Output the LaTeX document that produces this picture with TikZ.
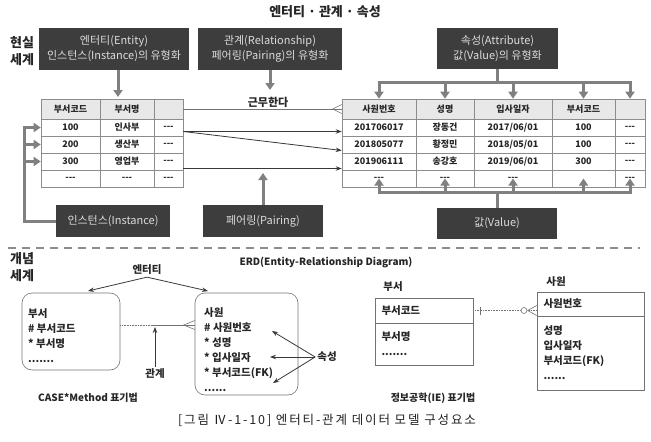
\documentclass[tikz,border=0pt]{standalone}
\usepackage{fontspec}
\setmainfont{Noto Sans CJK KR}
\usetikzlibrary{arrows.meta}

\begin{document}
\begin{tikzpicture}[x=1pt,y=-1pt]
\tikzset{
  darkbox/.style={rectangle,fill=black!76,text=white!86!black,align=center,inner sep=1pt,font=\fontsize{11}{15}\selectfont},
  bigline/.style={draw=black!50,line width=3pt},
  bigarrow/.style={bigline,-{Triangle[length=7pt,width=9pt]}},
  thinarrow/.style={draw=black!78,line width=0.8pt,-{Stealth[length=6pt,width=4.5pt]}},
  relline/.style={draw=black!55,line width=0.6pt},
  reldot/.style={relline,densely dotted},
  sepline/.style={draw=black!45,line width=2pt,dash pattern=on 8pt off 6pt},
  cell/.style={rectangle,draw=black!45,line width=0.6pt,inner sep=0pt,text=black!85,font=\fontsize{9}{10}\selectfont\bfseries},
  hcell/.style={cell,fill=black!9,minimum height=20},
  rcell/.style={cell,minimum height=17},
  dA/.style={minimum width=59}, dB/.style={minimum width=54}, dC/.style={minimum width=29},
  eA/.style={minimum width=74}, eB/.style={minimum width=58}, eC/.style={minimum width=78},
  eD/.style={minimum width=63}, eE/.style={minimum width=30},
  sidelabel/.style={align=center,inner sep=0pt,text=black!85,font=\fontsize{13}{17}\selectfont\bfseries},
  lowlabel/.style={inner sep=0pt,text=black!85,font=\fontsize{10.5}{13}\selectfont\bfseries},
  casebox/.style={rectangle,rounded corners=10pt,draw=black!55,line width=0.6pt},
  casetext/.style={align=left,inner sep=0pt,text=black!85,font=\fontsize{10.5}{15}\selectfont\bfseries},
  iebox/.style={rectangle,draw=black!55,line width=0.6pt,align=left,inner xsep=6.5pt,inner ysep=0pt,text=black!85,font=\fontsize{10.5}{15}\selectfont\bfseries}
}
\useasboundingbox (0,0) rectangle (651,442);
% upper half: real world
\node[inner sep=0pt,text=black!85,font=\fontsize{13}{15}\selectfont\bfseries] (title) at (325,12) {엔터티 · 관계 · 속성};
\node[sidelabel] (realW) at (22,51.5) {현실\\세계};
\node[darkbox,minimum width=150,minimum height=42] (ent) at (114,49) {엔터티(Entity)\\인스턴스(Instance)의 유형화};
\node[darkbox,minimum width=144,minimum height=42] (rel) at (270,49) {관계(Relationship)\\페어링(Pairing)의 유형화};
\node[darkbox,minimum width=121,minimum height=41] (attr) at (497.5,48.5) {속성(Attribute)\\값(Value)의 유형화};
\node[darkbox,minimum width=114,minimum height=32] (inst) at (113,221) {인스턴스(Instance)};
\node[darkbox,minimum width=120,minimum height=32] (pair) at (263,221) {페어링(Pairing)};
\node[darkbox,minimum width=120,minimum height=31] (val) at (497,223.5) {값(Value)};
% department table
\node[hcell,dA] (d_h1) at (70.5,109) {부서코드};
\node[hcell,dB] (d_h2) at (127,109) {부서명};
\node[hcell,dC] (d_h3) at (168.5,109) {};
\node[rcell,dA] (d_11) at (70.5,127.5) {100};
\node[rcell,dB] (d_12) at (127,127.5) {인사부};
\node[rcell,dC] (d_13) at (168.5,127.5) {-{}-{}-};
\node[rcell,dA] (d_21) at (70.5,144.5) {200};
\node[rcell,dB] (d_22) at (127,144.5) {생산부};
\node[rcell,dC] (d_23) at (168.5,144.5) {-{}-{}-};
\node[rcell,dA] (d_31) at (70.5,161.5) {300};
\node[rcell,dB] (d_32) at (127,161.5) {영업부};
\node[rcell,dC] (d_33) at (168.5,161.5) {-{}-{}-};
\node[rcell,dA] (d_41) at (70.5,178.5) {-{}-{}-};
\node[rcell,dB] (d_42) at (127,178.5) {-{}-{}-};
\node[rcell,dC] (d_43) at (168.5,178.5) {-{}-{}-};
% employee table
\node[hcell,eA] (e_h1) at (379,109) {사원번호};
\node[hcell,eB] (e_h2) at (445,109) {성명};
\node[hcell,eC] (e_h3) at (513,109) {입사일자};
\node[hcell,eD] (e_h4) at (583.5,109) {부서코드};
\node[hcell,eE] (e_h5) at (630,109) {};
\node[rcell,eA] (e_11) at (379,127.5) {201706017};
\node[rcell,eB] (e_12) at (445,127.5) {장동건};
\node[rcell,eC] (e_13) at (513,127.5) {2017/06/01};
\node[rcell,eD] (e_14) at (583.5,127.5) {100};
\node[rcell,eE] (e_15) at (630,127.5) {-{}-{}-};
\node[rcell,eA] (e_21) at (379,144.5) {201805077};
\node[rcell,eB] (e_22) at (445,144.5) {황정민};
\node[rcell,eC] (e_23) at (513,144.5) {2018/05/01};
\node[rcell,eD] (e_24) at (583.5,144.5) {100};
\node[rcell,eE] (e_25) at (630,144.5) {-{}-{}-};
\node[rcell,eA] (e_31) at (379,161.5) {201906111};
\node[rcell,eB] (e_32) at (445,161.5) {송강호};
\node[rcell,eC] (e_33) at (513,161.5) {2019/06/01};
\node[rcell,eD] (e_34) at (583.5,161.5) {300};
\node[rcell,eE] (e_35) at (630,161.5) {-{}-{}-};
\node[rcell,eA] (e_41) at (379,178.5) {-{}-{}-};
\node[rcell,eB] (e_42) at (445,178.5) {-{}-{}-};
\node[rcell,eC] (e_43) at (513,178.5) {-{}-{}-};
\node[rcell,eD] (e_44) at (583.5,178.5) {};
\node[rcell,eE] (e_45) at (630,178.5) {-{}-{}-};
\node[lowlabel,font=\fontsize{11}{13}\selectfont\bfseries] (work) at (268,102) {근무한다};
% pairing lines
\draw[relline] (d_h3.east) -- (e_h1.west);
\draw[relline] ([yshift=4.5pt]e_h1.west) -- ([xshift=-9pt]e_h1.west) -- ([yshift=-4.5pt]e_h1.west);
\draw[thinarrow] ([yshift=-4pt]d_13.east) -- ([yshift=-4pt]e_11.west);
\draw[thinarrow] ([yshift=-4pt]d_13.east) -- ([yshift=-6pt]e_21.west);
\draw[thinarrow] ([yshift=-7pt]d_33.east) -- ([yshift=-7pt]e_31.west);
% grey pointer arrows
\coordinate (deptTip) at (118,97);
\coordinate (workTip) at (270,90);
\coordinate (pairTip) at (263,173);
\coordinate (iBus) at (24,221);
\coordinate (aBus) at (497.5,82);
\coordinate (vBus) at (497,192);
\draw[bigarrow] (ent.south -| deptTip) -- (deptTip);
\draw[bigarrow] (rel.south) -- (workTip);
\draw[bigarrow] (pair.north) -- (pairTip);
\draw[bigarrow] (inst.west) -- (iBus) -- (iBus |- d_11.west) -- (d_11.west);
\draw[bigarrow] (iBus |- d_21.west) -- (d_21.west);
\draw[bigarrow] (iBus |- d_31.west) -- (d_31.west);
\draw[bigline] (attr.south) -- (aBus);
\draw[bigline,line cap=rect] (aBus -| e_h1) -- (aBus -| e_h5);
\draw[bigarrow] (aBus -| e_h1) -- (e_h1.north);
\draw[bigarrow] (aBus -| e_h2) -- (e_h2.north);
\draw[bigarrow] (aBus -| e_h3) -- (e_h3.north);
\draw[bigarrow] (aBus -| e_h4) -- (e_h4.north);
\draw[bigarrow] (aBus -| e_h5) -- (e_h5.north);
\draw[bigline] (val.north) -- (vBus);
\draw[bigline,line cap=rect] (vBus -| e_41) -- (vBus -| e_45);
\draw[bigarrow] (vBus -| e_41) -- (e_41.center);
\draw[bigarrow] (vBus -| e_42) -- (e_42.center);
\draw[bigarrow] (vBus -| e_43) -- (e_43.center);
\draw[bigarrow] (vBus -| e_44) -- (e_44.center);
\draw[bigarrow] (vBus -| e_45) -- (e_45.center);
% lower half: conceptual world
\coordinate (sepL) at (8,248);
\coordinate (sepR) at (640,248);
\draw[sepline] (sepL) -- (sepR);
\node[sidelabel] (conceptW) at (22,267) {개념\\세계};
\node[lowlabel,font=\fontsize{10}{12}\selectfont\bfseries] (erd) at (326,262) {ERD(Entity-Relationship Diagram)};
% CASE*Method
\node[casebox,minimum width=98,minimum height=77] (c_dept) at (71,331.5) {};
\node[casetext,anchor=north west] (c_deptTxt) at (28,308) {부서\\\# 부서코드\\* 부서명\\.......};
\node[casebox,minimum width=103,minimum height=102] (c_emp) at (246.5,344) {};
\node[casetext,anchor=north west] (c_empTxt) at (204,307) {사원\\\# 사원번호\\* 성명\\* 입사일자\\* 부서코드(FK)\\......};
\node[lowlabel] (entLbl) at (147,270) {엔터티};
\coordinate (entTipL) at (88,291);
\coordinate (entTipR) at (208,291);
\draw[thinarrow] ([yshift=-2pt]entLbl.south) -- (entTipL);
\draw[thinarrow] ([yshift=-2pt]entLbl.south) -- (entTipR);
\coordinate (cRelMid) at (153,325);
\coordinate (cFoot) at (c_emp.west |- cRelMid);
\draw[reldot] (c_dept.east |- cRelMid) -- (cRelMid);
\draw[relline] (cRelMid) -- (cFoot);
\draw[relline] ([yshift=4.5pt]cFoot) -- ([xshift=-11pt]cFoot) -- ([yshift=-4.5pt]cFoot);
\node[lowlabel] (relLbl) at (155,374) {관계};
\coordinate (relTip) at (155,327);
\draw[thinarrow] ([yshift=2pt]relLbl.north) -- (relTip);
\node[lowlabel] (attrLbl) at (327,357) {속성};
\coordinate (aTip1) at (272,331);
\coordinate (aTip2) at (270,357);
\coordinate (aTip3) at (273,383);
\draw[thinarrow] ([xshift=-2pt]attrLbl.west) -- (aTip1);
\draw[thinarrow] ([xshift=-2pt]attrLbl.west) -- (aTip2);
\draw[thinarrow] ([xshift=-2pt]attrLbl.west) -- (aTip3);
\node[lowlabel,font=\fontsize{10}{12}\selectfont\bfseries] (caseLbl) at (88,398) {CASE*Method 표기법};
% information engineering
\node[lowlabel] (ieDeptLbl) at (393,287) {부서};
\node[iebox,text width=85,minimum height=25] (ie_deptKey) at (424,310.5) {부서코드};
\node[iebox,text width=85,minimum height=42] (ie_deptAttr) at (424,344) {부서명\\.......};
\node[lowlabel] (ieEmpLbl) at (556,282) {사원};
\node[iebox,text width=94,minimum height=24] (ie_empKey) at (590.5,304) {사원번호};
\node[iebox,text width=94,minimum height=74] (ie_empAttr) at (590.5,353) {성명\\입사일자\\부서코드(FK)\\......};
\coordinate (ieBar) at (480,310.5);
\coordinate (ieFoot) at (ie_deptKey.east -| ie_empKey.west);
\draw[reldot] (ie_deptKey.east) -- (ieFoot);
\draw[relline] ([yshift=4pt]ieBar) -- ([yshift=-4pt]ieBar);
\draw[relline] ([yshift=5pt]ieFoot) -- ([xshift=-9pt]ieFoot) -- ([yshift=-5pt]ieFoot);
\node[circle,draw=black!55,line width=0.6pt,fill=white,minimum size=6,inner sep=0pt] (ieCirc) at (524,310.5) {};
\node[lowlabel,font=\fontsize{10}{12}\selectfont\bfseries] (ieLbl) at (433,398) {정보공학(IE) 표기법};
% caption
\node[inner sep=0pt,text=black!88,font=\fontsize{12.5}{14}\selectfont\addfontfeature{LetterSpace=15}] (caption) at (327,420) {[그림 Ⅳ-1-10] 엔터티-관계 데이터 모델 구성요소};
\end{tikzpicture}
\end{document}
